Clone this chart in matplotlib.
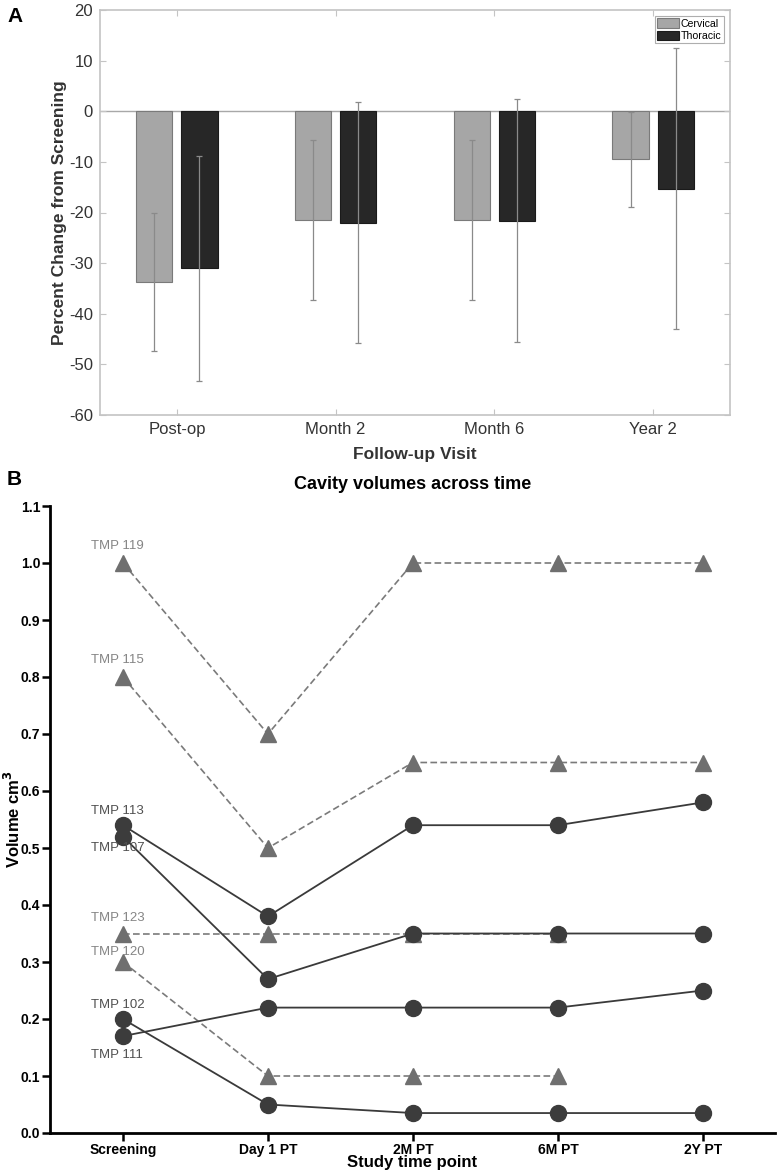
import numpy as np
import matplotlib
matplotlib.use("Agg")
import matplotlib.pyplot as plt

plt.rcParams['font.family'] = ['Liberation Sans', 'DejaVu Sans']
plt.rcParams['axes.unicode_minus'] = False

# ── panel A data: mean percent change and SD per visit ───────────────────────
visits = ['Post-op', 'Month 2', 'Month 6', 'Year 2']
cervical_mean = [-33.7, -21.5, -21.5, -9.5]
cervical_sd = [13.7, 15.8, 15.8, 9.4]
thoracic_mean = [-31.0, -22.0, -21.6, -15.3]
thoracic_sd = [22.2, 23.8, 24.0, 27.8]

# ── panel B data: cavity volume per subject over time ────────────────────────
timepoints = ['Screening', 'Day 1 PT', '2M PT', '6M PT', '2Y PT']
tri_names = ['TMP 119', 'TMP 115', 'TMP 123', 'TMP 120']
tri_values = [
    [1.00, 0.70, 1.00, 1.00, 1.00],
    [0.80, 0.50, 0.65, 0.65, 0.65],
    [0.35, 0.35, 0.35, 0.35, np.nan],
    [0.30, 0.10, 0.10, 0.10, np.nan],
]
circ_names = ['TMP 113', 'TMP 107', 'TMP 102', 'TMP 111']
circ_values = [
    [0.54, 0.38, 0.54, 0.54, 0.58],
    [0.52, 0.27, 0.35, 0.35, 0.35],
    [0.20, 0.05, 0.035, 0.035, 0.035],
    [0.17, 0.22, 0.22, 0.22, 0.25],
]
# label offsets (points) relative to the screening marker
tri_label_dy = [12, 12, 11, 7]
circ_label_dy = [10, -8, 10, -13.5]

W, H = 777, 1175
fig = plt.figure(figsize=(W / 100, H / 100), dpi=100)

# ── A: bar chart ─────────────────────────────────────────────────────────────
axA = fig.add_axes([100 / W, 1 - 415 / H, 630 / W, 405 / H])
x = np.arange(1, len(visits) + 1)
bw, off = 0.227, 0.142
grid_c = '#c4c4c4'
axA.axhline(0, color='#a8a8a8', lw=1.0, zorder=1)
axA.bar(x - off, cervical_mean, bw, color='#a6a6a6', edgecolor='#7a7a7a',
        lw=0.8, label='Cervical', zorder=2)
axA.bar(x + off, thoracic_mean, bw, color='#272727', edgecolor='#1a1a1a',
        lw=0.8, label='Thoracic', zorder=2)
axA.errorbar(x - off, cervical_mean, yerr=cervical_sd, fmt='none',
             ecolor='#8a8a8a', elinewidth=0.9, capsize=2, capthick=0.9, zorder=3)
axA.errorbar(x + off, thoracic_mean, yerr=thoracic_sd, fmt='none',
             ecolor='#8a8a8a', elinewidth=0.9, capsize=2, capthick=0.9, zorder=3)
axA.set_xlim(0.515, 4.485)
axA.set_ylim(-60, 20)
axA.set_yticks(np.arange(-60, 21, 10))
axA.set_xticks(x)
axA.set_xticklabels(visits)
for s in axA.spines.values():
    s.set_color(grid_c)
    s.set_linewidth(1.2)
axA.tick_params(direction='in', length=4, width=0.8, color=grid_c,
                labelsize=12, labelcolor='#333333', top=True, right=True, pad=5)
axA.set_ylabel('Percent Change from Screening', fontsize=12.5, fontweight='bold',
               color='#333333', va='center')
axA.yaxis.set_label_coords(-40 / 630, 0.5)
axA.set_xlabel('Follow-up Visit', fontsize=12.5, fontweight='bold', color='#333333',
               va='center')
axA.xaxis.set_label_coords(0.5, -40 / 405)
leg = axA.legend(loc='upper right', bbox_to_anchor=(0.990, 0.985), borderaxespad=0,
                 fontsize=7.6, frameon=True, fancybox=False, handlelength=2.1,
                 handleheight=1.0, handletextpad=0.2, borderpad=0.2,
                 labelspacing=0.2)
leg.get_frame().set_edgecolor('#9a9a9a')
leg.get_frame().set_linewidth(0.8)

# ── B: cavity volumes ────────────────────────────────────────────────────────
axB = fig.add_axes([50 / W, 1 - 1133 / H, 725 / W, 627 / H])
t = np.arange(len(timepoints))
tri_c, circ_c = '#6f6f6f', '#3c3c3c'
for name, vals, dy in zip(tri_names, tri_values, tri_label_dy):
    axB.plot(t, vals, ls='--', color='#7a7a7a', lw=1.2, marker='^', ms=12,
             mfc=tri_c, mec=tri_c, dashes=(4, 2), zorder=2)
    axB.annotate(name, (t[0], vals[0]), xytext=(-4, dy), textcoords='offset points',
                 ha='center', va='center', fontsize=9.5, color='#858585')
for name, vals, dy in zip(circ_names, circ_values, circ_label_dy):
    axB.plot(t, vals, ls='-', color='#3a3a3a', lw=1.3, marker='o', ms=11.5,
             mfc=circ_c, mec=circ_c, zorder=3)
    axB.annotate(name, (t[0], vals[0]), xytext=(-4, dy), textcoords='offset points',
                 ha='center', va='center', fontsize=9.5, color='#505050', zorder=4)
axB.set_xlim(-0.503, 4.497)
axB.set_ylim(0, 1.1)
axB.set_yticks(np.arange(0, 1.11, 0.1))
axB.set_yticklabels([f'{v:.1f}' for v in np.arange(0, 1.11, 0.1)])
axB.set_xticks(t)
axB.set_xticklabels(timepoints)
for sp in ['top', 'right']:
    axB.spines[sp].set_visible(False)
for sp in ['left', 'bottom']:
    axB.spines[sp].set_linewidth(2.0)
axB.tick_params(direction='out', length=6, width=1.8, labelsize=10, pad=1)
for lab in axB.get_xticklabels() + axB.get_yticklabels():
    lab.set_fontweight('bold')
axB.set_title('Cavity volumes across time', fontsize=13, fontweight='bold', pad=12)
axB.set_ylabel(r'Volume cm$^\mathbf{3}$', fontsize=12, fontweight='bold', va='center')
axB.yaxis.set_label_coords(-37 / 725, 0.5)
axB.set_xlabel('Study time point', fontsize=12, fontweight='bold', va='center')
axB.xaxis.set_label_coords(0.5, -30 / 627)

fig.text(7 / W, 1 - 17 / H, 'A', fontsize=15, fontweight='bold', va='center')
fig.text(7 / W, 1 - 480 / H, 'B', fontsize=15, fontweight='bold', va='center')

fig.savefig('out.png', dpi=100)
